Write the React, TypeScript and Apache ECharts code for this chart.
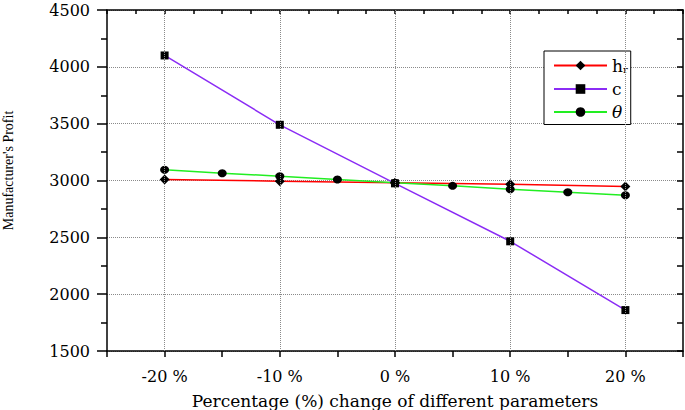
import React, { useEffect, useRef } from "react";
import * as echarts from "echarts";

const hrX = [-20, -10, 0, 10, 20];
const hrVals = [3009, 2994, 2980, 2967, 2947];
const cX = [-20, -10, 0, 10, 20];
const cVals = [4100, 3490, 2975, 2465, 1860];
const thetaX = [-20, -15, -10, -5, 0, 5, 10, 15, 20];
const thetaVals = [3094, 3064, 3038, 3009, 2980, 2953, 2923, 2897, 2870];
const gridX = [-20, -10, 0, 10, 20];
const seriesNames = ["hr", "c", "θ"];

const SERIF = "'Liberation Serif', 'Times New Roman', serif";
const WIDE = "'DejaVu Serif', 'Liberation Serif', serif";

function pairs(xs: number[], ys: number[]) {
  return xs.map((x, i) => [x, ys[i]]);
}

export default function App() {
  const ref = useRef<HTMLDivElement>(null);
  useEffect(() => {
    if (!ref.current) return;
    const chart = echarts.init(ref.current, undefined, { renderer: "svg" });
    const axisLine = { show: true, onZero: false, lineStyle: { color: "#000", width: 1.5 } };
    chart.setOption({
      animation: false,
      backgroundColor: "#fff",
      grid: { left: 107, right: 2, top: 10, bottom: 59, containLabel: false, outerBoundsMode: "none" },
      legend: {
        data: seriesNames,
        orient: "vertical",
        left: 544,
        top: 51,
        itemWidth: 53,
        itemHeight: 12,
        itemGap: 6,
        padding: [6, 3, 4, 9],
        borderColor: "#000",
        borderWidth: 1,
        backgroundColor: "#fff",
        textStyle: {
          fontFamily: WIDE,
          fontSize: 17,
          color: "#000",
          rich: {
            a: { fontFamily: WIDE, fontSize: 17, color: "#000" },
            sub: { fontFamily: WIDE, fontSize: 10, color: "#000", verticalAlign: "bottom", padding: [8, 0, 0, 0] },
            i: { fontFamily: WIDE, fontSize: 17, fontStyle: "italic", color: "#000" },
          },
        },
        formatter: (n: string) =>
          n === "hr" ? "{a|h}{sub|r}" : n === "θ" ? "{i|θ}" : "{a|" + n + "}",
      },
      xAxis: [
        {
          type: "value",
          position: "bottom",
          min: -25,
          max: 25,
          interval: 5,
          axisLine,
          axisTick: { show: true, inside: false, length: 6, lineStyle: { color: "#000", width: 1.5 } },
          axisLabel: {
            margin: 17,
            fontFamily: WIDE,
            fontSize: 16,
            color: "#000",
            formatter: (v: number) => (v % 10 === 0 && Math.abs(v) <= 20 ? `${v} %` : ""),
          },
          splitLine: { show: false },
          name: "Percentage (%) change of different parameters",
          nameLocation: "middle",
          nameGap: 41,
          nameTextStyle: { fontFamily: WIDE, fontSize: 17, color: "#000" },
        },
        {
          type: "value",
          position: "top",
          min: -25,
          max: 25,
          interval: 2.5,
          axisLine,
          axisTick: { show: true, inside: true, length: 4, lineStyle: { color: "#000", width: 1.5 } },
          axisLabel: { show: false },
          splitLine: { show: false },
        },
      ],
      yAxis: [
        {
          type: "value",
          position: "left",
          min: 1500,
          max: 4500,
          interval: 500,
          axisLine,
          axisTick: { show: true, inside: false, length: 10, lineStyle: { color: "#000", width: 1.5 } },
          minorTick: { show: true, splitNumber: 2, length: 6, lineStyle: { color: "#000", width: 1.5 } },
          axisLabel: {
            margin: 17,
            fontFamily: WIDE,
            fontSize: 16,
            color: "#000",
            formatter: (v: number) => String(v),
          },
          splitLine: { show: true, lineStyle: { color: "#8a8a8a", type: "dotted", width: 1 } },
          name: "Manufacturer's Profit",
          nameLocation: "middle",
          nameGap: 92,
          nameTextStyle: { fontFamily: SERIF, fontSize: 14, color: "#000", padding: [0, 0, 0, 20] },
        },
        {
          type: "value",
          position: "right",
          min: 1500,
          max: 4500,
          interval: 250,
          axisLine,
          axisTick: { show: true, inside: true, length: 6, lineStyle: { color: "#000", width: 1.5 } },
          axisLabel: { show: false },
          splitLine: { show: false },
        },
      ],
      series: [
        {
          name: "grid",
          type: "line",
          data: pairs(cX, cVals),
          symbol: "none",
          lineStyle: { opacity: 0 },
          silent: true,
          z: 1,
          markLine: {
            silent: true,
            symbol: "none",
            label: { show: false },
            lineStyle: { color: "#8a8a8a", type: "dotted", width: 1 },
            data: gridX.map((x) => ({ xAxis: x })),
          },
        },
        {
          name: "hr",
          type: "line",
          data: pairs(hrX, hrVals),
          symbol: "diamond",
          symbolSize: [10, 10],
          itemStyle: { color: "#000" },
          lineStyle: { color: "#ff0000", width: 1.5 },
          z: 3,
        },
        {
          name: "c",
          type: "line",
          data: pairs(cX, cVals),
          symbol: "rect",
          symbolSize: 8,
          itemStyle: { color: "#000" },
          lineStyle: { color: "#8b2cf5", width: 1.5 },
          z: 3,
        },
        {
          name: "θ",
          type: "line",
          data: pairs(thetaX, thetaVals),
          symbol: "circle",
          symbolSize: [9, 8],
          itemStyle: { color: "#000" },
          lineStyle: { color: "#22ee22", width: 1.5 },
          z: 3,
        },
      ],
    });
    return () => chart.dispose();
  }, []);
  return (
    <div
      ref={ref}
      style={{ position: "fixed", left: 0, top: 0, width: 685, height: 410, background: "#fff" }}
    />
  );
}
